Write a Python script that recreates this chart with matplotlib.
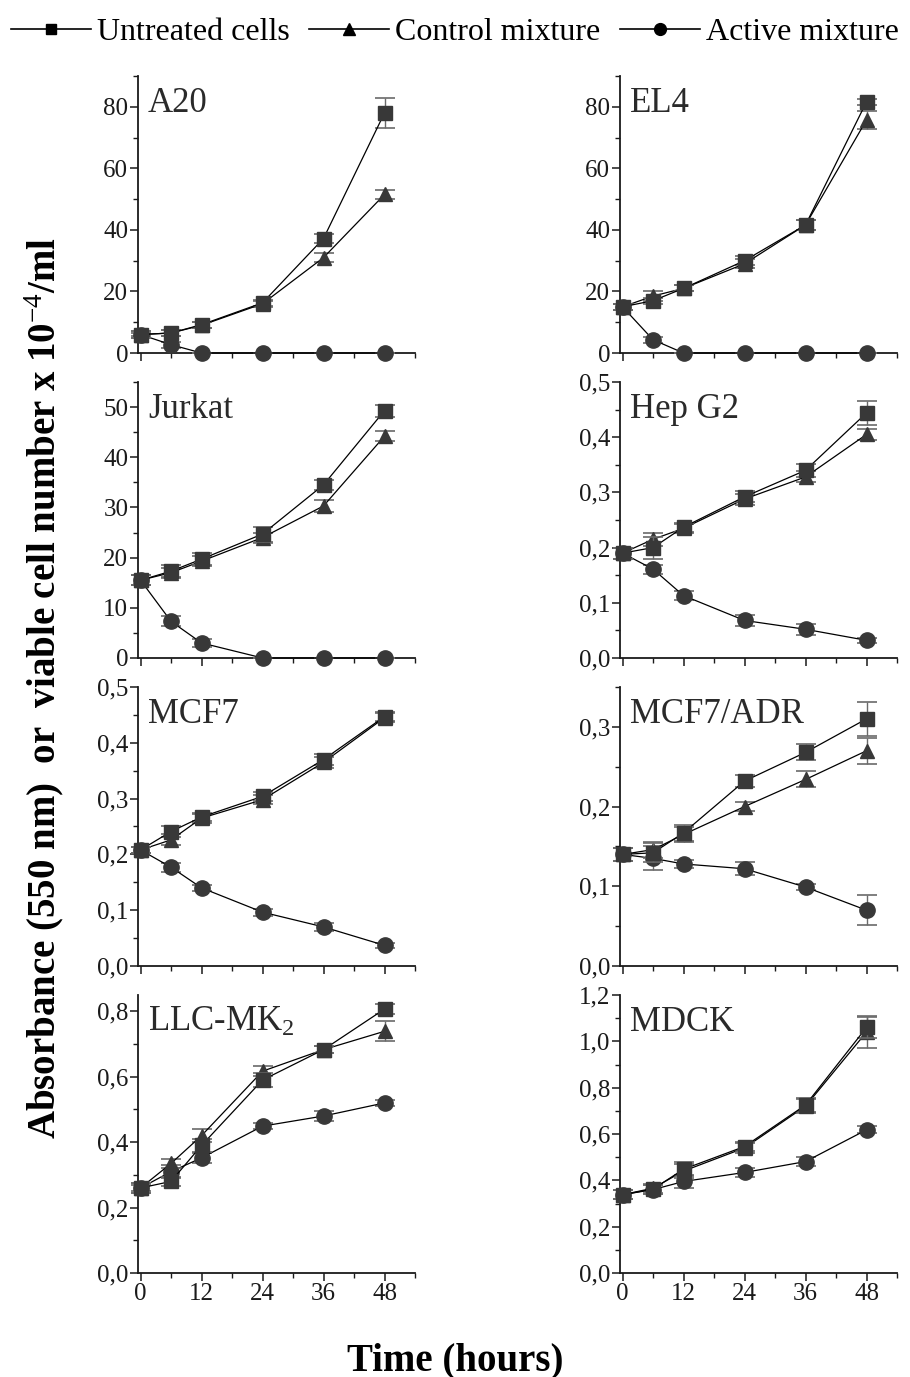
import matplotlib

matplotlib.use("Agg")
import matplotlib.pyplot as plt
from matplotlib.lines import Line2D
from matplotlib.ticker import FuncFormatter, MultipleLocator

plt.rcParams["font.family"] = ["Liberation Serif", "DejaVu Serif"]
plt.rcParams["mathtext.fontset"] = "custom"
plt.rcParams["mathtext.rm"] = "Liberation Serif"
plt.rcParams["mathtext.it"] = "Liberation Serif:italic"
plt.rcParams["mathtext.bf"] = "Liberation Serif:bold"

hours = [0, 6, 12, 24, 36, 48]
series_names = ["Untreated cells", "Control mixture", "Active mixture"]

# A20
a20_untreated = [6, 6.5, 9.2, 16.3, 37.2, 78]
a20_untreated_err = [1, 1, 1, 1, 1.5, 4.8]
a20_control = [6, 6.5, 9, 16, 31, 51.5]
a20_control_err = [1, 1, 1, 1, 1.5, 1.5]
a20_active = [6, 2.7, 0, 0, 0, 0]
a20_active_err = [0.5, 1, 0, 0, 0, 0]

# EL4
el4_untreated = [15, 17, 21, 30, 41.6, 81.6]
el4_untreated_err = [1, 1, 1, 1.5, 1.5, 1]
el4_control = [15, 18.5, 21, 29, 41.6, 75.7]
el4_control_err = [1, 1.5, 1, 1.5, 1.5, 3]
el4_active = [15, 4.3, 0, 0, 0, 0]
el4_active_err = [1, 1, 0, 0, 0, 0]

# Jurkat
jurkat_untreated = [15.5, 17.3, 19.7, 24.7, 34.5, 49.3]
jurkat_untreated_err = [1, 1.2, 1.2, 1.5, 1, 1.2]
jurkat_control = [15.5, 17, 19.3, 24, 30.3, 44.2]
jurkat_control_err = [1, 1, 1, 1, 1.2, 1]
jurkat_active = [15.5, 7.3, 3, 0, 0, 0]
jurkat_active_err = [1, 1, 0.8, 0, 0, 0]

# Hep G2
hep_untreated = [0.19, 0.20, 0.237, 0.292, 0.34, 0.444]
hep_untreated_err = [0.01, 0.02, 0.008, 0.01, 0.012, 0.022]
hep_control = [0.19, 0.215, 0.235, 0.288, 0.328, 0.405]
hep_control_err = [0.01, 0.012, 0.008, 0.01, 0.01, 0.01]
hep_active = [0.19, 0.161, 0.113, 0.068, 0.052, 0.032]
hep_active_err = [0.01, 0.008, 0.008, 0.01, 0.01, 0.005]

# MCF7
mcf7_untreated = [0.208, 0.241, 0.267, 0.304, 0.37, 0.447]
mcf7_untreated_err = [0.005, 0.01, 0.008, 0.008, 0.01, 0.008]
mcf7_control = [0.208, 0.226, 0.265, 0.298, 0.365, 0.445]
mcf7_control_err = [0.005, 0.01, 0.008, 0.008, 0.01, 0.008]
mcf7_active = [0.208, 0.177, 0.14, 0.0965, 0.07, 0.037]
mcf7_active_err = [0.005, 0.008, 0.006, 0.006, 0.007, 0.004]

# MCF7/ADR
adr_untreated = [0.14, 0.142, 0.167, 0.232, 0.268, 0.31]
adr_untreated_err = [0.008, 0.012, 0.01, 0.008, 0.01, 0.021]
adr_control = [0.14, 0.146, 0.165, 0.2, 0.234, 0.27]
adr_control_err = [0.008, 0.01, 0.01, 0.006, 0.01, 0.016]
adr_active = [0.14, 0.135, 0.128, 0.122, 0.099, 0.07]
adr_active_err = [0.008, 0.015, 0.005, 0.008, 0.004, 0.019]

# LLC-MK2
llc_untreated = [0.26, 0.28, 0.39, 0.59, 0.683, 0.807]
llc_untreated_err = [0.015, 0.015, 0.02, 0.02, 0.01, 0.015]
llc_control = [0.26, 0.335, 0.42, 0.617, 0.683, 0.739]
llc_control_err = [0.015, 0.015, 0.02, 0.015, 0.01, 0.03]
llc_active = [0.26, 0.31, 0.352, 0.449, 0.48, 0.52]
llc_active_err = [0.01, 0.02, 0.015, 0.01, 0.015, 0.01]

# MDCK
mdck_untreated = [0.338, 0.362, 0.448, 0.546, 0.725, 1.06]
mdck_untreated_err = [0.02, 0.02, 0.03, 0.02, 0.03, 0.045]
mdck_control = [0.338, 0.366, 0.44, 0.54, 0.72, 1.04]
mdck_control_err = [0.02, 0.02, 0.03, 0.02, 0.03, 0.07]
mdck_active = [0.338, 0.36, 0.395, 0.434, 0.481, 0.618]
mdck_active_err = [0.02, 0.02, 0.03, 0.02, 0.02, 0.015]

# name, series, errors, ylim top, major, minor, decimals, column, row
panels = [
    ("A20", (a20_untreated, a20_control, a20_active),
     (a20_untreated_err, a20_control_err, a20_active_err), 90, 20, 10, 0, 0, 0),
    ("EL4", (el4_untreated, el4_control, el4_active),
     (el4_untreated_err, el4_control_err, el4_active_err), 90, 20, 10, 0, 1, 0),
    ("Jurkat", (jurkat_untreated, jurkat_control, jurkat_active),
     (jurkat_untreated_err, jurkat_control_err, jurkat_active_err), 55, 10, 5, 0, 0, 1),
    ("Hep G2", (hep_untreated, hep_control, hep_active),
     (hep_untreated_err, hep_control_err, hep_active_err), 0.5, 0.1, 0.05, 1, 1, 1),
    ("MCF7", (mcf7_untreated, mcf7_control, mcf7_active),
     (mcf7_untreated_err, mcf7_control_err, mcf7_active_err), 0.5, 0.1, 0.05, 1, 0, 2),
    ("MCF7/ADR", (adr_untreated, adr_control, adr_active),
     (adr_untreated_err, adr_control_err, adr_active_err), 0.35, 0.1, 0.05, 1, 1, 2),
    ("LLC-MK$_2$", (llc_untreated, llc_control, llc_active),
     (llc_untreated_err, llc_control_err, llc_active_err), 0.85, 0.2, 0.1, 1, 0, 3),
    ("MDCK", (mdck_untreated, mdck_control, mdck_active),
     (mdck_untreated_err, mdck_control_err, mdck_active_err), 1.2, 0.2, 0.1, 1, 1, 3),
]

W, H = 910, 1377
col_left = [138, 620]
ax_width = 277
row_spans = [(76, 353), (382, 658), (687, 966), (995, 1273)]
markers = ["s", "^", "o"]
marker_sizes = [10, 10.5, 11]
marker_color = "#383838"

fig = plt.figure(figsize=(W / 100, H / 100), dpi=100)


def comma_fmt(decimals):
    return FuncFormatter(lambda v, pos: f"{v:.{decimals}f}".replace(".", ","))


for name, values, errors, ytop, major, minor, decimals, col, row in panels:
    top, bottom = row_spans[row]
    ax = fig.add_axes([col_left[col] / W, 1 - bottom / H,
                       ax_width / W, (bottom - top) / H])
    # draw active first so untreated ends on top
    for idx in (2, 1, 0):
        ax.errorbar(hours, values[idx], yerr=errors[idx], color="black", lw=0.9,
                    marker=markers[idx], ms=marker_sizes[idx],
                    mfc=marker_color, mec=marker_color,
                    ecolor="#6a6a6a", elinewidth=1.0, capsize=7, capthick=1.2,
                    clip_on=False, zorder=3 + (2 - idx))
    ax.set_xlim(-0.5, 54)
    ax.set_ylim(0, ytop)
    for side in ("top", "right"):
        ax.spines[side].set_visible(False)
    for side in ("left", "bottom"):
        ax.spines[side].set_linewidth(1.3)
        ax.spines[side].set_color("#1a1a1a")
    ax.xaxis.set_major_locator(MultipleLocator(12))
    ax.xaxis.set_minor_locator(MultipleLocator(6))
    ax.yaxis.set_major_locator(MultipleLocator(major))
    ax.yaxis.set_minor_locator(MultipleLocator(minor))
    ax.yaxis.set_major_formatter(comma_fmt(decimals))
    ax.tick_params(which="major", direction="out", length=6, width=1.1,
                   labelsize=18, pad=1, colors="#1a1a1a")
    ax.tick_params(which="minor", direction="out", length=3.5, width=1.0,
                   colors="#1a1a1a")
    if row < 3:
        ax.tick_params(axis="x", labelbottom=False)
    ax.text(0.036, 0.90, name, transform=ax.transAxes, fontsize=25,
            va="center", ha="left", color="#2a2a2a")

handles = [Line2D([], [], color="black", lw=1.2, marker=m, ms=s,
                  mfc="black", mec="black")
           for m, s in zip(markers, [7.5, 8.5, 8.5])]
fig.legend(handles, series_names, loc="upper center", bbox_to_anchor=(0.5, 1.008),
           ncol=3, frameon=False, fontsize=23, handlelength=2.5,
           handletextpad=0.2, columnspacing=0.6)

fig.text(0.049, 0.50, "Absorbance (550 nm)  or  viable cell number x 10$^{-4}$/ml",
         rotation=90, ha="center", va="center", fontsize=28, fontweight="bold")
fig.text(0.5, 0.012, "Time (hours)", ha="center", va="center",
         fontsize=28, fontweight="bold")

fig.savefig("out.png", dpi=100)
